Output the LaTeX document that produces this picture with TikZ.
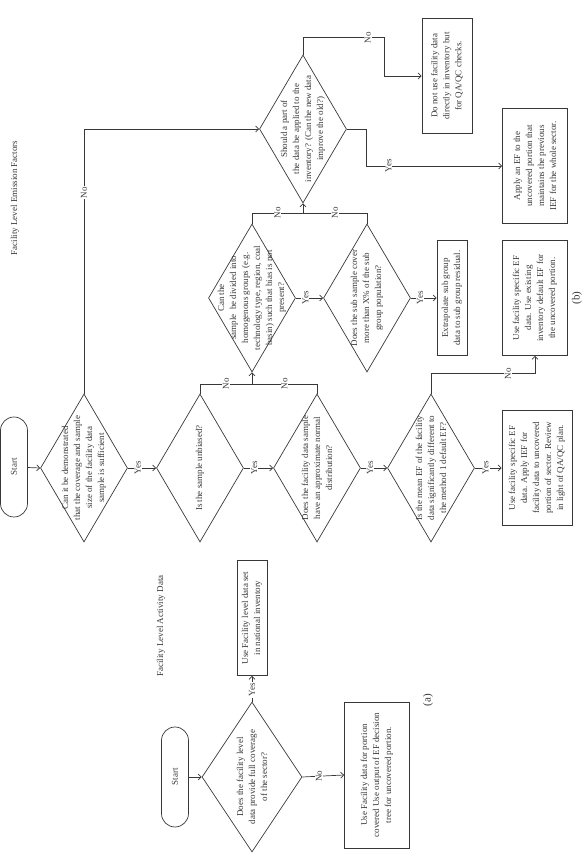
\documentclass[tikz,border=0pt]{standalone}
\usepackage{fontspec}
\setmainfont{Liberation Serif}
\usetikzlibrary{shapes.geometric,arrows.meta}

\begin{document}
\begin{tikzpicture}[x=1pt,y=1pt,rotate=90,transform shape,
    color=black!78, line width=0.7pt,
    >={Straight Barb[length=3pt,width=6pt]},
    every node/.style={font=\fontsize{9}{12}\selectfont},
    dia/.style={diamond, draw, inner sep=0pt, minimum width=148pt, minimum height=87pt},
    diatext/.style={align=center, inner sep=0pt},
    box/.style={rectangle, draw, align=center, inner sep=1pt, minimum width=115pt},
    term/.style={rectangle, draw, rounded corners=13.5pt, minimum width=100pt, minimum height=27pt},
    lbl/.style={fill=white, inner sep=1pt}]
  \useasboundingbox (0,0) rectangle (856,586);

  % (a) activity data
  \node (titleA) at (230,425) {Facility Level Activity Data};
  \node[term] (startA) at (79,411) {Start};
  \node[dia, minimum width=150pt, minimum height=100pt] (qA) at (79,334) {};
  \node[diatext] (qAt) at (qA) {Does the facility level\\ data provide full coverage\\ of the sector?};
  \node[box, minimum height=30pt] (useA) at (238,334) {Use Facility level data set\\ in national inventory};
  \node[box, minimum width=146pt, minimum height=65pt] (partA) at (81,209)
    {Use Facility data for portion\\ covered Use output of EF decision\\ tree for uncovered portion.};
  \node[font=\fontsize{11}{13}\selectfont] (capA) at (156,158) {(a)};

  \draw[->] (startA) -- (qA.north);
  \draw[->] (qA.east) -- node[lbl, pos=0.45] {Yes} (useA.west);
  \draw[->] (qA.south) -- node[lbl, pos=0.4] {No} (partA.north);

  % (b) emission factors
  \node (titleB) at (658,571) {Facility Level Emission Factors};
  \node[term] (startB) at (389,572) {Start};
  \node[dia] (q1) at (388,502) {};
  \node[diatext] (q1t) at (q1) {Can it be demonstrated\\ that the coverage and sample\\ size of the facility data\\ sample is sufficient};
  \node[dia] (q2) at (388,386) {};
  \node[diatext] (q2t) at (q2) {Is the sample unbiased?};
  \node[dia] (q3) at (388,269) {};
  \node[diatext] (q3t) at (q3) {Does the facility data sample\\ have an approximate normal\\ distribution?};
  \node[dia] (q4) at (388,155) {};
  \node[diatext] (q4t) at (q4) {Is the mean EF of the facility\\ data significantly different to\\ the method 1 default EF?};
  \node[box, minimum height=70pt] (useB) at (388,49)
    {Use facility specific EF\\ data. Apply IEF for\\ facility data to uncovered\\ portion of sector. Review\\ in light of QA/QC plan.};
  \node[dia] (q5) at (558,334) {};
  \node[diatext] (q5t) at (q5) {Can the\\ sample\ \ be divided into\\ homogenous groups (e.g.\\ technology type, region, coal\\ basin) such that bias is not\\ present?};
  \node[dia] (q6) at (558,219) {};
  \node[diatext] (q6t) at (q6) {Does the sub sample cover\\ more than X\% of the sub\\ group population?};
  \node[box, minimum height=30pt] (extraB) at (558,134) {Extrapolate sub group\\ data to sub group residual.};
  \node[box, minimum height=65pt] (defB) at (558,51)
    {Use facility specific EF\\ data. Use existing\\ inventory default EF for\\ the uncovered portion.};
  \node[dia] (q7) at (727,283) {};
  \node[diatext] (q7t) at (q7) {Should a part of\\ the data be applied to the\\ inventory? (Can the new data\\ improve the old?)};
  \node[box, minimum height=50pt] (qaqcB) at (780,139) {Do not use facility data\\ directly in inventory but\\ for QA/QC checks.};
  \node[box, minimum height=65pt] (applyB) at (690,51)
    {Apply an EF to the\\ uncovered portion that\\ maintains the previous\\ IEF for the whole sector.};
  \node[font=\fontsize{11}{13}\selectfont] (capB) at (558,9) {(b)};

  \coordinate (j1) at (472,334);
  \coordinate (j2) at (643,283);

  \draw[->] (startB) -- (q1.north);
  \draw[->] (q1.south) -- node[lbl, pos=0.35] {Yes} (q2.north);
  \draw[->] (q2.south) -- node[lbl, pos=0.35] {Yes} (q3.north);
  \draw[->] (q3.south) -- node[lbl, pos=0.35] {Yes} (q4.north);
  \draw[->] (q4.south) -- node[lbl, pos=0.4] {Yes} (useB.north);
  \draw[->] (q5.south) -- node[lbl, pos=0.35] {Yes} (q6.north);
  \draw[->] (q6.south) -- node[lbl, pos=0.35] {Yes} (extraB.north);
  \draw[->] (q1.east) -| node[lbl, pos=0.38] {No} (q7.north);
  \draw (q2.east) -| node[lbl, pos=0.75] {No} (j1);
  \draw (q3.east) -| node[lbl, pos=0.75] {No} (j1);
  \draw[->] (j1) -- (q5.west);
  \draw (q5.east) -| node[lbl, pos=0.75] {No} (j2);
  \draw (q6.east) -| node[lbl, pos=0.75] {No} (j2);
  \draw[->] (j2) -- (q7.west);
  \draw[->] (q4.east) -- ++(20,0) |- node[lbl, pos=0.37] {No} (defB.west);
  \draw[->] (q7.east) -- ++(17,0) -- node[lbl, pos=0.8] {No} ++(0,-81) -| (qaqcB.north);
  \draw[->] (q7.south) -- ++(0,-20) -| node[lbl, pos=0.58] {Yes} (applyB.north);
\end{tikzpicture}
\end{document}
